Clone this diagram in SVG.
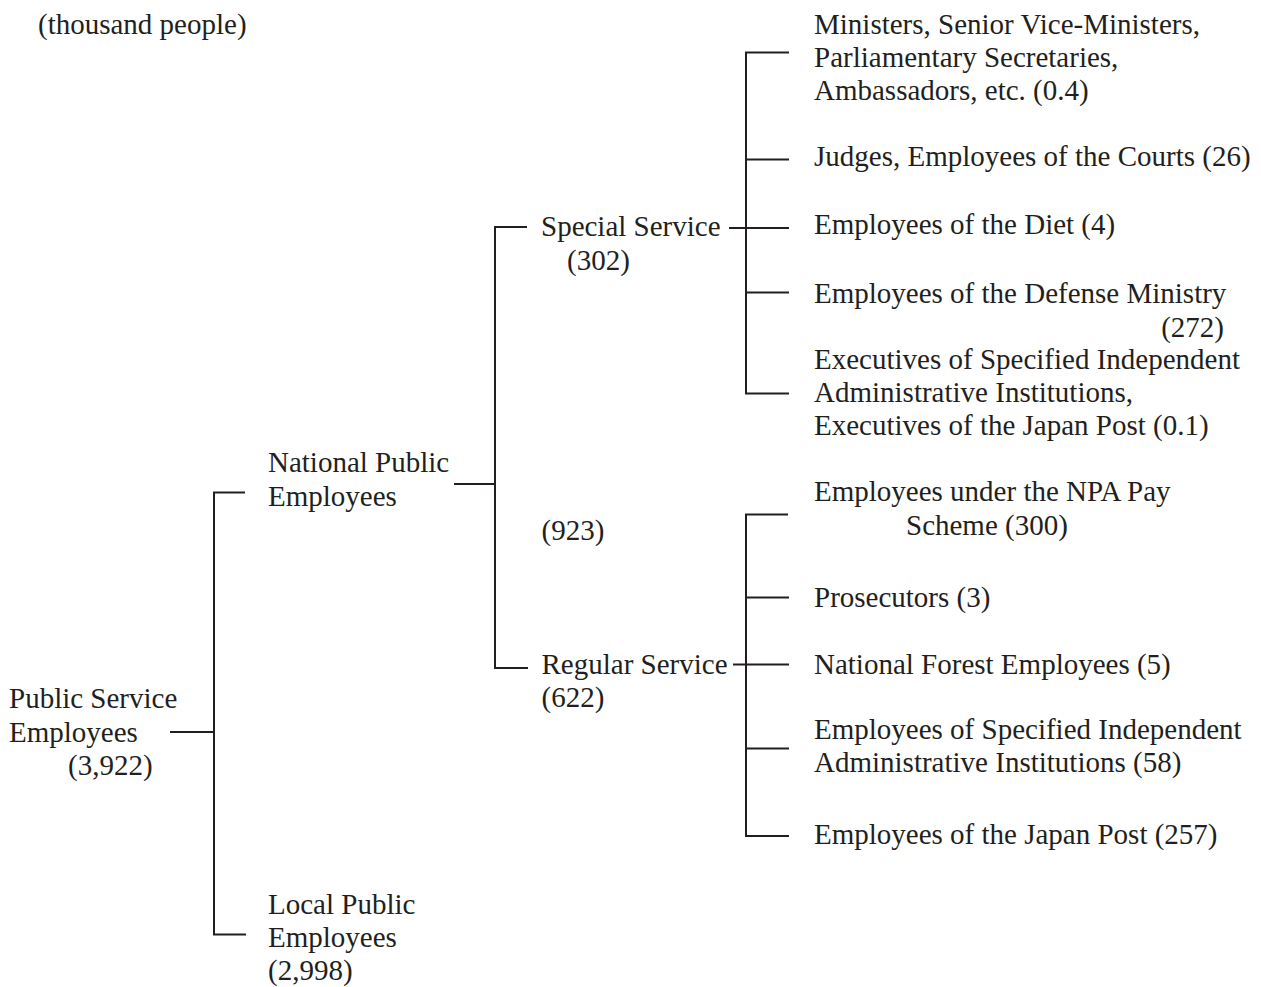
<svg xmlns="http://www.w3.org/2000/svg" width="1261" height="987" viewBox="0 0 1261 987">
<style>
text{font-family:"Liberation Serif","Times New Roman",serif;font-size:29px;fill:#231f20}
.ln{fill:none;stroke:#231f20;stroke-width:2}
</style>
<rect width="1261" height="987" fill="#fff"/>
<text x="38" y="34">(thousand people)</text>
<g id="connectors">
<path class="ln" d="M170 732H214"/>
<path class="ln" d="M245 492.5H214V934.5H246"/>
<path class="ln" d="M454 484H495"/>
<path class="ln" d="M527 227H495V668H528"/>
<path class="ln" d="M729 228H789"/>
<path class="ln" d="M789 52.5H746V393.5H789M746 159.5H789M746 292.5H789"/>
<path class="ln" d="M733 664.5H789"/>
<path class="ln" d="M788 514.5H746V836H789M746 597.5H789M746 748.5H789"/>
</g>
<g id="root"><text x="9" y="708">Public Service</text><text x="9" y="742">Employees</text><text x="68" y="775">(3,922)</text></g>
<g id="national"><text x="268" y="472">National Public</text><text x="268" y="506">Employees</text><text x="541.5" y="540">(923)</text></g>
<g id="local"><text x="268" y="914">Local Public</text><text x="268" y="947">Employees</text><text x="268" y="980">(2,998)</text></g>
<g id="special"><text x="541" y="236">Special Service</text><text x="567" y="270">(302)</text></g>
<g id="regular"><text x="541.5" y="674">Regular Service</text><text x="541.5" y="707">(622)</text></g>
<g id="ministers"><text x="814" y="33.5">Ministers, Senior Vice-Ministers,</text><text x="814" y="67">Parliamentary Secretaries,</text><text x="814" y="100">Ambassadors, etc. (0.4)</text></g>
<g id="judges"><text x="814" y="166">Judges, Employees of the Courts (26)</text></g>
<g id="diet"><text x="814" y="234">Employees of the Diet (4)</text></g>
<g id="defense"><text x="814" y="303">Employees of the Defense Ministry</text><text x="1224" y="336.5" text-anchor="end">(272)</text></g>
<g id="executives"><text x="814" y="369">Executives of Specified Independent</text><text x="814" y="402">Administrative Institutions,</text><text x="814" y="435">Executives of the Japan Post (0.1)</text></g>
<g id="npa"><text x="814" y="500.5">Employees under the NPA Pay</text><text x="906" y="535">Scheme (300)</text></g>
<g id="prosecutors"><text x="814" y="606.5">Prosecutors (3)</text></g>
<g id="forest"><text x="814" y="674">National Forest Employees (5)</text></g>
<g id="specified"><text x="814" y="739">Employees of Specified Independent</text><text x="814" y="772">Administrative Institutions (58)</text></g>
<g id="japanpost"><text x="814" y="844">Employees of the Japan Post (257)</text></g>
</svg>
